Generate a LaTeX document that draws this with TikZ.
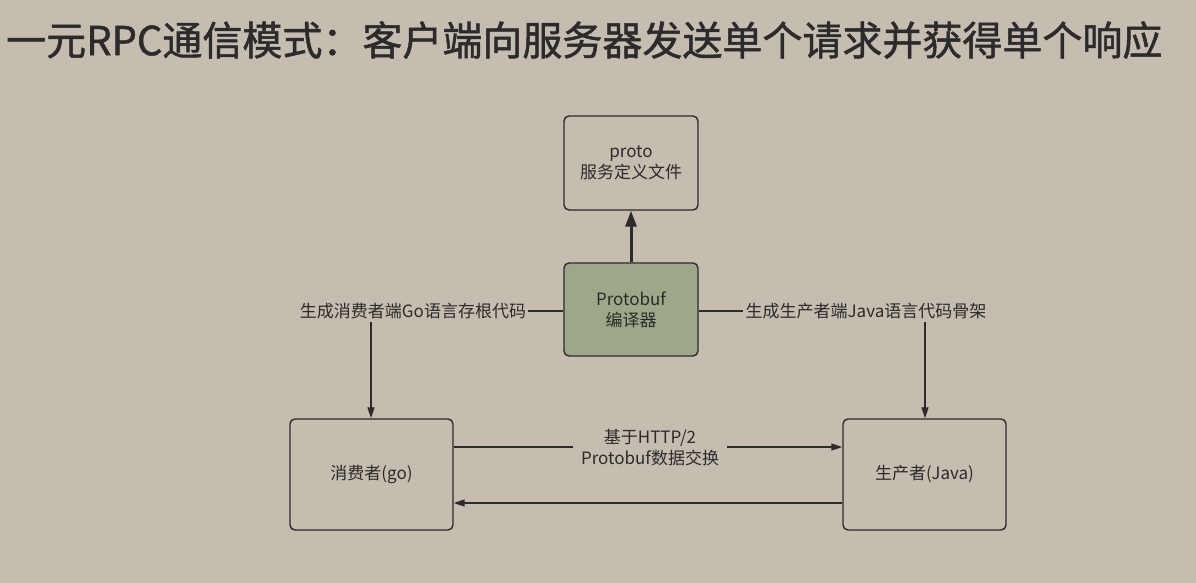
\documentclass[tikz,border=0pt]{standalone}
\usepackage{fontspec}
\setmainfont{Noto Sans CJK SC}
\newfontfamily\titlefont[FakeBold=1.2]{Noto Sans CJK SC}
\usetikzlibrary{arrows.meta}
\definecolor{bgc}{HTML}{C5BDB0}
\definecolor{greenc}{HTML}{9DA889}
\definecolor{inkc}{HTML}{2B2B2B}
\begin{document}
\begin{tikzpicture}[x=1pt,y=-1pt,
  box/.style={draw=inkc,line width=1.4pt,rounded corners=5pt,minimum width=134pt,inner sep=0pt,align=center,font=\fontsize{17}{21}\selectfont,text=inkc},
  lbl/.style={font=\fontsize{17}{21}\selectfont,text=inkc,inner sep=2pt,align=center},
  conn/.style={draw=inkc,line width=1.3pt},
  arr/.style={conn,-{Triangle[length=11pt,width=7pt]}}]
\useasboundingbox (0,0) rectangle (1196,583);
\fill[bgc] (0,0) rectangle (1196,583);

% title
\node[anchor=west,inner sep=0pt,text=inkc,font=\titlefont\fontsize{40}{44}\selectfont] (title) at (6,40)
  {一元RPC通信模式：客户端向服务器发送单个请求并获得单个响应};

% nodes
\node[box,minimum height=94pt] (proto) at (631,163) {proto\\服务定义文件};
\node[box,minimum height=93pt,fill=greenc] (pb) at (631,309.5) {Protobuf\\编译器};
\node[box,minimum width=163pt,minimum height=111pt] (cons) at (371.5,474.5) {消费者(go)};
\node[box,minimum width=163pt,minimum height=111pt] (prod) at (924.5,474.5) {生产者(Java)};

% code generation labels
\node[lbl] (gl) at (413,311) {生成消费者端Go语言存根代码};
\node[lbl] (gr) at (866,311) {生成生产者端Java语言代码骨架};
\coordinate (glb) at (371,322);
\coordinate (grb) at (925,322);

% connectors
\draw[conn,line width=3pt,-{Triangle[length=16pt,width=11pt]}] (pb.north) -- (proto.south);
\draw[conn] (pb.west |- gl.east) -- (gl.east);
\draw[conn] (pb.east |- gr.west) -- (gr.west);
\draw[arr] (glb) -- (glb |- cons.north);
\draw[arr] (grb) -- (grb |- prod.north);

\coordinate (c1) at (cons.east |- 0,447);
\coordinate (c2) at (cons.east |- 0,503);
\draw[arr] (c1) -- (c1 -| prod.west);
\draw[arr] (c2 -| prod.west) -- (c2);
\node[lbl,fill=bgc,inner xsep=8pt] (proto2) at (650,448) {基于HTTP/2\\Protobuf数据交换};
\end{tikzpicture}
\end{document}
